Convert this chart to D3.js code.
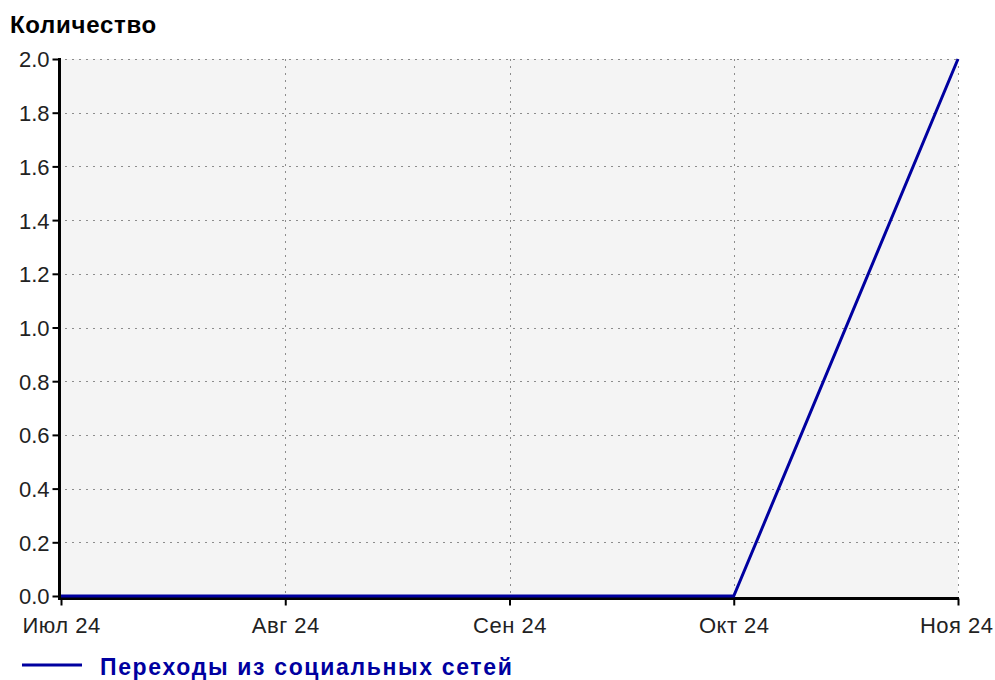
<!DOCTYPE html>
<html>
<head>
<meta charset="utf-8">
<script src="https://cdn.jsdelivr.net/npm/d3@7"></script>
<style>
body{margin:0;background:#fff;}
svg{display:block;font-family:"Liberation Sans",Arial,sans-serif;}
</style>
</head>
<body>
<svg id="chart" width="995" height="680"></svg>
<script>
var months=["Июл 24","Авг 24","Сен 24","Окт 24","Ноя 24"];
var values=[0,0,0,0,2];
var yTicks=[0,0.2,0.4,0.6,0.8,1.0,1.2,1.4,1.6,1.8,2.0];
var seriesName="Переходы из социальных сетей";

var svg=d3.select("#chart");
var plotL=61,plotR=958,plotT=59,plotB=596;
var lineColor="#0000a0";
var font="Liberation Sans, Arial, sans-serif";

var x=d3.scalePoint().domain(months).range([plotL,plotR]);
var y=d3.scaleLinear().domain([0,2]).range([plotB,plotT]);

// plot background
svg.append("rect")
    .attr("x",plotL).attr("y",plotT)
    .attr("width",plotR-plotL).attr("height",plotB-plotT+2)
    .attr("fill","#f4f4f4");

// grid
svg.append("g").selectAll("line").data(yTicks.filter(function(d){return d>0;}))
    .enter().append("line")
    .attr("x1",plotL+4).attr("x2",plotR)
    .attr("y1",function(d){return Math.round(y(d))+0.5;})
    .attr("y2",function(d){return Math.round(y(d))+0.5;})
    .attr("stroke","#8c8c8c").attr("stroke-dasharray","2,5");
svg.append("g").selectAll("line").data(months.slice(1))
    .enter().append("line")
    .attr("x1",function(d){return Math.round(x(d))+0.5;})
    .attr("x2",function(d){return Math.round(x(d))+0.5;})
    .attr("y1",plotT).attr("y2",plotB)
    .attr("stroke","#8c8c8c").attr("stroke-dasharray","2,5");

// y axis
var yAxis=svg.append("g").attr("transform","translate("+(plotL-1.5)+",0)")
    .call(d3.axisLeft(y).tickValues(yTicks).tickFormat(d3.format(".1f")).tickSize(7).tickPadding(3));
yAxis.select(".domain").attr("stroke","#000").attr("stroke-width",3).attr("d","M0,"+(plotT-1)+"V"+(plotB+4));
yAxis.selectAll(".tick line").attr("stroke","#000").attr("stroke-width",2);
yAxis.selectAll(".tick text").attr("font-size",22).attr("fill","#222").attr("font-family",font).attr("dy","0.36em");

// x axis
var xAxis=svg.append("g").attr("transform","translate(0,"+(plotB+2.5)+")")
    .call(d3.axisBottom(x).tickSize(7).tickPadding(10));
xAxis.select(".domain").attr("stroke","#000").attr("stroke-width",3).attr("d","M"+(plotL-3)+",0H"+(plotR+1));
xAxis.selectAll(".tick line").attr("stroke","#000").attr("stroke-width",2);
xAxis.selectAll(".tick text").attr("font-size",22).attr("fill","#222").attr("font-family",font)
    .attr("y",34).attr("dy",0).attr("letter-spacing",0.5);
xAxis.selectAll(".tick").filter(function(d,i){return i===0;}).select("text").attr("text-anchor","start").attr("dx",-39);
xAxis.selectAll(".tick").filter(function(d,i){return i===months.length-1;}).select("text").attr("text-anchor","end").attr("dx",35);

// series line
var line=d3.line().x(function(d,i){return x(months[i]);}).y(function(d){return y(d);});
svg.append("path").datum(values)
    .attr("d",line)
    .attr("fill","none").attr("stroke",lineColor).attr("stroke-width",3);

// title
svg.append("text").attr("x",10).attr("y",33)
    .attr("font-size",24).attr("font-weight","bold").attr("fill","#000").attr("font-family",font)
    .attr("letter-spacing",0.7)
    .text("Количество");

// legend
svg.append("line").attr("x1",22).attr("x2",82).attr("y1",665).attr("y2",665)
    .attr("stroke",lineColor).attr("stroke-width",3);
svg.append("text").attr("x",100).attr("y",675)
    .attr("font-size",23).attr("font-weight","bold").attr("fill",lineColor).attr("font-family",font)
    .attr("letter-spacing",1.65)
    .text(seriesName);
</script>
</body>
</html>
